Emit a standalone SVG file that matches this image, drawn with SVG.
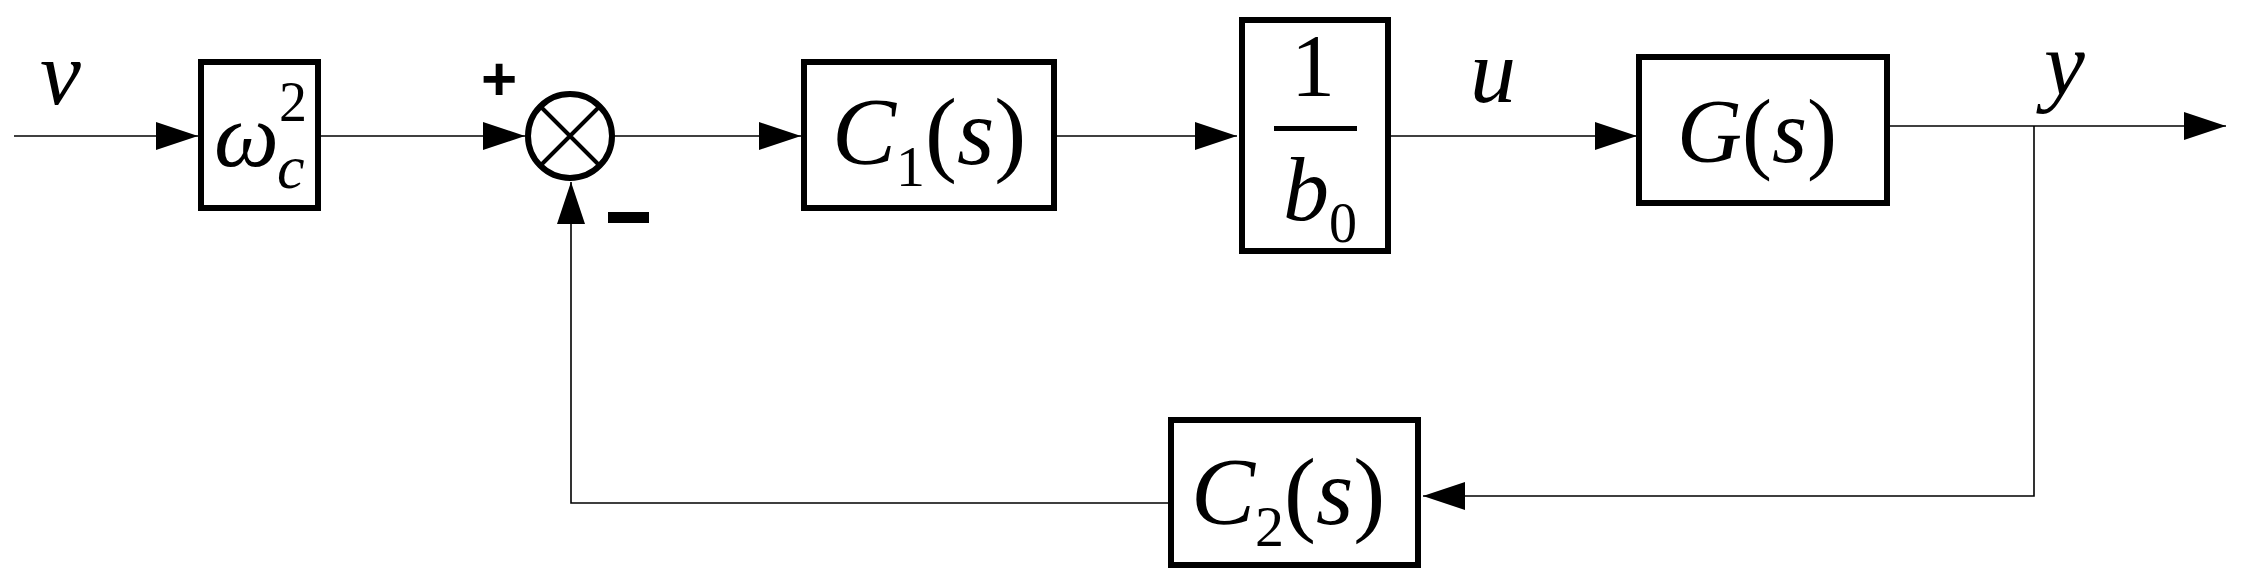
<svg xmlns="http://www.w3.org/2000/svg" width="2245" height="579" viewBox="0 0 2245 579">
<style>
.box{fill:#fff;stroke:#000;stroke-width:6}
.ln{fill:none;stroke:#000;stroke-width:1.6}
.m{font-family:"Liberation Serif",serif;font-style:italic;fill:#000}
.r{font-style:normal}
.s{font-family:"Liberation Sans",sans-serif;font-weight:bold;fill:#000}
</style>
<defs>
<marker id="a" markerUnits="userSpaceOnUse" markerWidth="44" markerHeight="30" refX="42" refY="14" orient="auto">
<path d="M0,0L42,14L0,28Z" fill="#000"/>
</marker>
</defs>
<rect width="2245" height="579" fill="#fff"/>
<g id="connectors">
<line class="ln" x1="14" y1="136" x2="198" y2="136" marker-end="url(#a)"/>
<line class="ln" x1="321" y1="136" x2="525" y2="136" marker-end="url(#a)"/>
<line class="ln" x1="614" y1="136" x2="801" y2="136" marker-end="url(#a)"/>
<line class="ln" x1="1057" y1="136" x2="1237" y2="136" marker-end="url(#a)"/>
<line class="ln" x1="1391" y1="136" x2="1637" y2="136" marker-end="url(#a)"/>
<line class="ln" x1="1890" y1="126" x2="2226" y2="126" marker-end="url(#a)"/>
<polyline class="ln" points="2034,126 2034,496 1423,496" marker-end="url(#a)"/>
<polyline class="ln" points="1168,503 571,503 571,182" marker-end="url(#a)"/>
</g>
<g id="n-gain">
<rect class="box" x="201" y="62" width="117" height="146"/>
<text class="m" x="214" y="166" font-size="92">ω<tspan class="r" font-size="56" dy="-45">2</tspan><tspan font-size="62" dx="-30" dy="67">c</tspan></text>
</g>
<g id="n-sum">
<circle cx="570" cy="136" r="42" fill="#fff" stroke="#000" stroke-width="6"/>
<path d="M540,106L600,166M600,106L540,166" stroke="#000" stroke-width="4"/>
<text class="s" x="499" y="100" font-size="62" text-anchor="middle">+</text>
<rect x="608" y="212" width="41" height="11" fill="#000"/>
</g>
<g id="n-c1">
<rect class="box" x="804" y="62" width="250" height="146"/>
<text class="m" x="832" y="164" font-size="96">C<tspan class="r" font-size="58" dy="22">1</tspan><tspan class="r" dy="-22">(</tspan>s<tspan class="r">)</tspan></text>
</g>
<g id="n-b0">
<rect class="box" x="1242" y="20" width="146" height="231"/>
<text class="m r" x="1313" y="95" font-size="88" text-anchor="middle" style="font-style:normal">1</text>
<rect x="1274" y="126" width="83" height="5" fill="#000"/>
<text class="m" x="1283" y="220" font-size="92">b<tspan class="r" font-size="56" dy="22">0</tspan></text>
</g>
<g id="n-g">
<rect class="box" x="1639" y="57" width="248" height="146"/>
<text class="m" x="1677" y="162" font-size="90">G<tspan class="r">(</tspan>s<tspan class="r">)</tspan></text>
</g>
<g id="n-c2">
<rect class="box" x="1171" y="420" width="247" height="145"/>
<text class="m" x="1191" y="524" font-size="96">C<tspan class="r" font-size="58" dy="22">2</tspan><tspan class="r" dy="-22">(</tspan>s<tspan class="r">)</tspan></text>
</g>
<g id="labels">
<text class="m" x="40" y="104" font-size="92">v</text>
<text class="m" x="1470" y="102" font-size="92">u</text>
<text class="m" x="2044" y="95" font-size="92">y</text>
</g>
</svg>
